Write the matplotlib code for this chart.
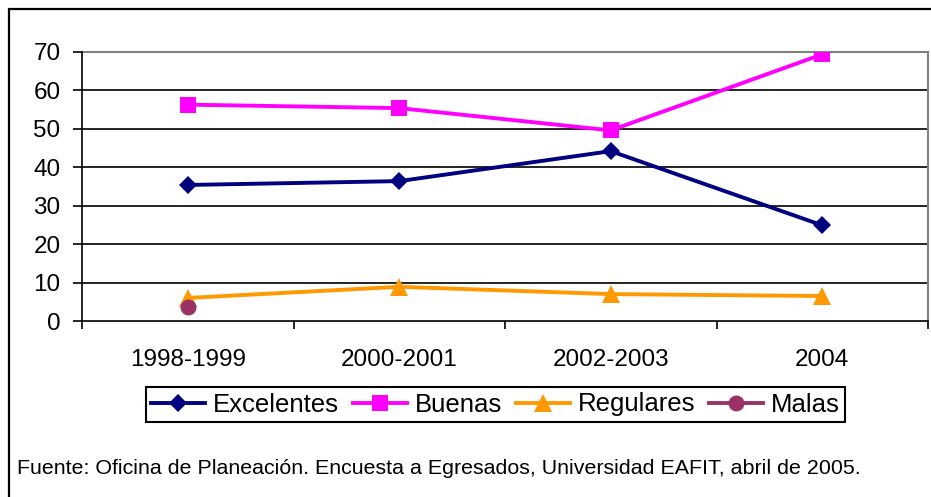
import matplotlib
matplotlib.use("Agg")
import matplotlib.pyplot as plt
from matplotlib.patches import Rectangle

categories = ["1998-1999", "2000-2001", "2002-2003", "2004"]
excelentes = [35.4, 36.4, 44.2, 24.9]
buenas = [56.3, 55.4, 49.6, 69.4]
regulares = [6.0, 8.9, 7.0, 6.5]
malas = [3.7, None, None, None]
yticks = [0, 10, 20, 30, 40, 50, 60, 70]
footer = "Fuente: Oficina de Planeación. Encuesta a Egresados, Universidad EAFIT, abril de 2005."

plt.rcParams['font.family'] = ['Liberation Sans', 'DejaVu Sans']

W, H = 931, 497
fig = plt.figure(figsize=(W / 100, H / 100), dpi=100)
ax = fig.add_axes([82 / W, 1 - 321 / H, (928 - 82) / W, (321 - 52) / H])

x = list(range(len(categories)))
ax.plot(x, excelentes, color="#000080", lw=2.8, marker="D", ms=9.5, mew=0, label="Excelentes", zorder=4)
ax.plot(x, buenas, color="#FF00FF", lw=2.8, marker="s", ms=11, mew=0, label="Buenas", zorder=4)
ax.plot(x, regulares, color="#FF9900", lw=2.8, marker="^", ms=13, mew=0, label="Regulares", zorder=4)
mx = [i for i, v in enumerate(malas) if v is not None]
my = [v for v in malas if v is not None]
ax.plot(mx, my, color="#993366", lw=2.8, marker="o", ms=11.5, mew=0, label="Malas", zorder=5)

ax.set_xlim(-0.5, len(categories) - 0.5)
ax.set_ylim(0, 70)
ax.set_yticks(yticks)
ax.set_yticklabels([str(t) for t in yticks], fontsize=17.5)
ax.set_xticks(x)
ax.set_xticklabels(categories, fontsize=17.5)
ax.set_xticks([i - 0.5 for i in range(len(categories) + 1)], minor=True)
ax.tick_params(axis='x', which='major', length=0, pad=20)
ax.tick_params(axis='x', which='minor', length=6, width=1.2, direction='out', color='black')
ax.tick_params(axis='y', length=6.5, width=1.2, direction='out', pad=9, color='black')

for t in yticks[1:-1]:
    ax.axhline(t, color='black', lw=1.2, zorder=1)
ax.spines['top'].set_color('#808080')
ax.spines['top'].set_linewidth(1.5)
ax.spines['right'].set_color('#808080')
ax.spines['right'].set_linewidth(1.5)
ax.spines['left'].set_color('black')
ax.spines['left'].set_linewidth(1.2)
ax.spines['bottom'].set_color('black')
ax.spines['bottom'].set_linewidth(1.2)
ax.spines['top'].set_zorder(1)

leg = fig.legend(loc='center', bbox_to_anchor=(495.5 / W, 1 - 404.5 / H), ncol=4,
                 fontsize=18.5, frameon=True, fancybox=False, framealpha=1,
                 edgecolor='black', handlelength=2.1, handletextpad=0.3,
                 columnspacing=0.55, borderpad=0.22, borderaxespad=0)
leg.get_frame().set_linewidth(1.5)

fig.text(17 / W, 1 - 469 / H, footer, fontsize=15.4, ha='left', va='center')

fig.patches.append(Rectangle((9 / W, -0.1), 1.2, 1.1 - 9 / H, transform=fig.transFigure,
                             fill=False, edgecolor='black', lw=1.6, clip_on=False))

fig.savefig("out.png", dpi=100)
